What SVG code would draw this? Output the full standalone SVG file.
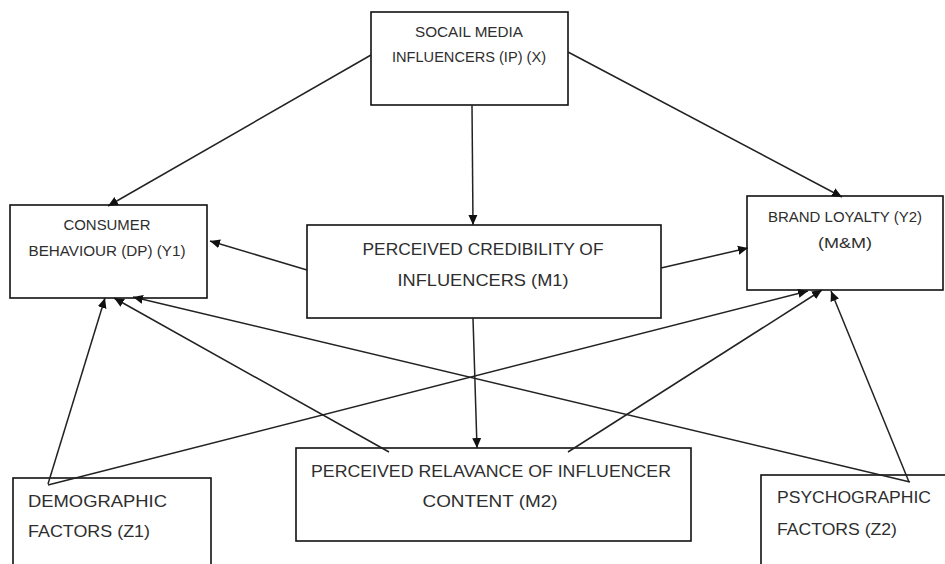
<svg xmlns="http://www.w3.org/2000/svg" width="945" height="564" viewBox="0 0 945 564">
<defs>
<marker id="ah" viewBox="0 0 10 10" refX="10" refY="5" markerWidth="10" markerHeight="10" markerUnits="userSpaceOnUse" orient="auto">
<path d="M0,0.5 L10,5 L0,9.5 z" fill="#111"/>
</marker>
<style>
.box{fill:#fff;stroke:#111;stroke-width:1.6}
.t{font-family:"Liberation Sans",Arial,sans-serif;fill:#2e2e2e}
.s{font-size:14.5px}
.m{font-size:17px}
.c{text-anchor:middle}
.e{fill:none;stroke:#222;stroke-width:1.5}
.a{marker-end:url(#ah)}
</style>
</defs>
<rect width="945" height="564" fill="#fff"/>
<g id="influencers">
<rect class="box" x="371" y="12" width="197" height="93"/>
<text class="t s c" x="469" y="37" textLength="108" lengthAdjust="spacingAndGlyphs">SOCAIL MEDIA</text>
<text class="t s c" x="469" y="62" textLength="154" lengthAdjust="spacingAndGlyphs">INFLUENCERS (IP) (X)</text>
</g>
<g id="consumer">
<rect class="box" x="10" y="205" width="197" height="93"/>
<text class="t s c" x="107" y="230" textLength="87" lengthAdjust="spacingAndGlyphs">CONSUMER</text>
<text class="t s c" x="107" y="256" textLength="157" lengthAdjust="spacingAndGlyphs">BEHAVIOUR (DP) (Y1)</text>
</g>
<g id="brand">
<rect class="box" x="747" y="196" width="196" height="94"/>
<text class="t s c" x="845" y="222" textLength="154" lengthAdjust="spacingAndGlyphs">BRAND LOYALTY (Y2)</text>
<text class="t s c" x="845" y="248" textLength="54" lengthAdjust="spacingAndGlyphs">(M&amp;M)</text>
</g>
<g id="credibility">
<rect class="box" x="307" y="225" width="354" height="93"/>
<text class="t m c" x="483" y="255" textLength="241" lengthAdjust="spacingAndGlyphs">PERCEIVED CREDIBILITY OF</text>
<text class="t m c" x="483" y="286" textLength="171" lengthAdjust="spacingAndGlyphs">INFLUENCERS (M1)</text>
</g>
<g id="relevance">
<rect class="box" x="296" y="448" width="395" height="93"/>
<text class="t m c" x="491" y="477" textLength="360" lengthAdjust="spacingAndGlyphs">PERCEIVED RELAVANCE OF INFLUENCER</text>
<text class="t m c" x="490" y="507" textLength="135" lengthAdjust="spacingAndGlyphs">CONTENT (M2)</text>
</g>
<g id="demographic">
<rect class="box" x="13" y="478" width="198" height="100"/>
<text class="t m" x="28" y="507" textLength="139" lengthAdjust="spacingAndGlyphs">DEMOGRAPHIC</text>
<text class="t m" x="28" y="537" textLength="122" lengthAdjust="spacingAndGlyphs">FACTORS (Z1)</text>
</g>
<g id="psychographic">
<rect class="box" x="761" y="475" width="200" height="100"/>
<text class="t m" x="777" y="503" textLength="154" lengthAdjust="spacingAndGlyphs">PSYCHOGRAPHIC</text>
<text class="t m" x="777" y="535" textLength="120" lengthAdjust="spacingAndGlyphs">FACTORS (Z2)</text>
</g>
<g id="edges">
<line class="e a" x1="371" y1="55" x2="108" y2="206"/>
<line class="e a" x1="568" y1="52" x2="842" y2="197"/>
<line class="e a" x1="472" y1="105" x2="473" y2="225"/>
<line class="e a" x1="307" y1="270" x2="210" y2="241"/>
<line class="e a" x1="661" y1="268" x2="748" y2="248"/>
<line class="e a" x1="473" y1="318" x2="477" y2="448"/>
<line class="e a" x1="48" y1="484" x2="105" y2="298"/>
<line class="e a" x1="389" y1="452" x2="114" y2="298"/>
<line class="e a" x1="910" y1="482" x2="133" y2="297"/>
<line class="e a" x1="48" y1="485" x2="808" y2="291"/>
<line class="e a" x1="568" y1="452" x2="822" y2="290"/>
<line class="e a" x1="909" y1="482" x2="831" y2="291"/>
</g>
</svg>
